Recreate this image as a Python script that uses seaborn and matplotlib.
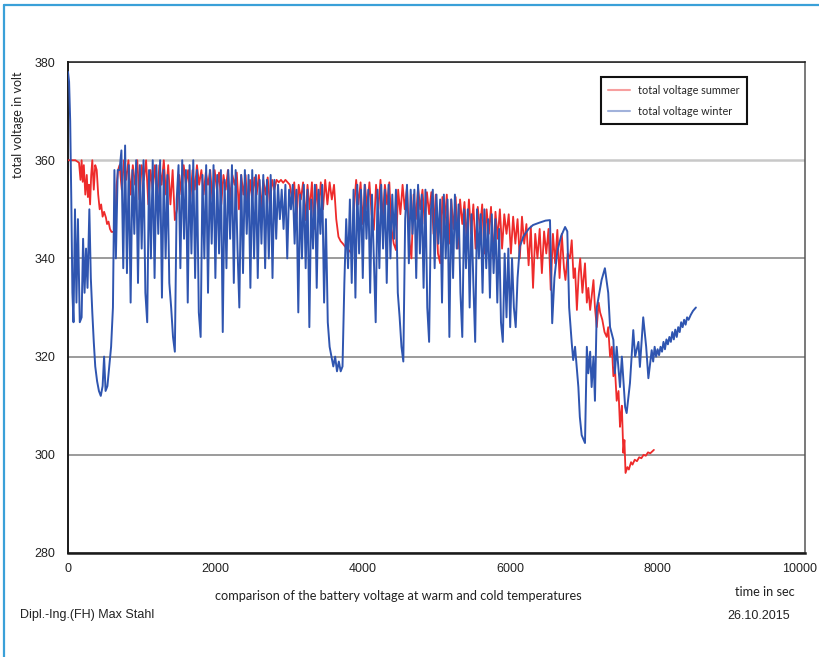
import numpy as np
import pandas as pd
import matplotlib.pyplot as plt
import seaborn as sns
from matplotlib import font_manager
from matplotlib.lines import Line2D
from matplotlib.ticker import MultipleLocator
from matplotlib.transforms import ScaledTranslation

sns.set_theme(style='white')

# fonts: narrow sans for numbers, calibri-like for the captions
names = {f.name for f in font_manager.fontManager.ttflist}
narrow = 'Liberation Sans Narrow' if 'Liberation Sans Narrow' in names else 'Liberation Sans'
calib = 'Lato'
plt.rcParams['font.family'] = [narrow, 'DejaVu Sans']

# ---- data (time in sec, voltage in volt) ----
# winter: first seconds
winter_start_t = [0, 15, 30, 45, 60, 75, 95, 115, 135, 160, 185, 205, 225, 245, 265, 290,
                  310, 330, 350, 370, 395, 420, 445, 470, 490, 510, 535, 560, 585, 610,
                  630, 650, 675]
winter_start_v = [378, 376, 368, 352, 333, 327, 350, 331, 348, 327, 328, 344, 333, 342, 334, 350,
                  336, 329, 323, 318, 315, 313, 312, 314, 320, 313, 314, 318, 322, 330,
                  358, 340, 358]

# winter: dense driving part, sampled every 25 s from 700 s
winter_dense_t0 = 700
winter_dense_dt = 25
winter_dense_v = [
    358, 362, 338, 363, 337, 359, 331, 358, 345, 360, 335, 359, 342, 360, 333, 327, 358, 340, 360, 336,
    359, 345, 360, 332, 358, 340, 357, 335, 330, 324, 321, 352, 359, 338, 360, 344, 358, 331, 359, 341,
    360, 336, 358, 329, 324, 357, 340, 359, 333, 358, 343, 359, 336, 357, 341, 358, 325, 356, 338, 358,
    344, 359, 335, 358, 342, 330, 357, 337, 358, 345, 357, 334, 358, 340, 357, 336, 356, 343, 357, 338,
    356, 340, 357, 336, 356, 344, 355, 348, 354, 346, 355, 340, 354, 350, 355, 343, 354, 329, 353, 340,
    355, 338, 354, 326, 352, 342, 355, 334, 354, 345, 355, 331, 348, 327, 322, 320, 318, 320, 317, 319,
    317, 318, 335, 348, 338, 352, 335, 354, 332, 355, 341, 354, 336, 355, 344, 354, 333, 353, 340, 327,
    354, 338, 355, 342, 354, 335, 355, 340, 353, 344, 354, 333, 328, 322, 319, 348, 355, 339, 354, 345,
    354, 336, 355, 341, 353, 334, 354, 330, 323, 350, 354, 338, 353, 343, 352, 331, 353, 340, 352, 324,
    352, 336, 353, 342, 351, 333, 324, 350, 338, 350, 330, 349, 335, 323, 350, 340, 349, 333, 350, 338,
    348, 332, 349, 337, 348, 331, 346, 327, 323, 341, 328, 342, 326, 340, 330, 326,
]

# winter: recovery curve and final drop
winter_end_t = [6100, 6130, 6180, 6250, 6310, 6400, 6480, 6540, 6555, 6570, 6600, 6640, 6690, 6745,
                6775, 6800, 6835, 6855, 6880, 6925, 6945, 6970, 7015, 7040, 7060, 7085, 7105, 7130,
                7150, 7175, 7240, 7285, 7330, 7355, 7400, 7420, 7445, 7490, 7515, 7560, 7580, 7625,
                7670, 7695, 7740, 7760, 7805, 7845, 7875, 7920, 7940, 7960, 7980, 8000, 8020, 8040,
                8060, 8080, 8100, 8120, 8140, 8160, 8180, 8200, 8220, 8240, 8260, 8280, 8300, 8320,
                8340, 8360, 8380, 8400, 8420, 8450, 8480, 8520]
winter_end_v = [336, 342.4, 344.5, 346, 346.8, 347.3, 347.7, 347.8, 338, 326.8, 336, 341.5, 344.5, 346.4,
                345.5, 330, 322.8, 319.3, 322, 313.8, 307.7, 304, 302.4, 322, 316.6, 321, 313.8, 320,
                311, 330, 335.6, 338, 333, 326, 323.4, 316.6, 322, 313.8, 320, 309.7, 308.5, 314.6,
                325.4, 320, 323, 317.9, 328, 322, 315.6, 321.3, 319, 322, 320, 321.5, 320.3, 322,
                321, 323, 321.5, 323.5, 322.5, 324, 323, 325, 323.5, 325.5, 324, 326, 325, 327,
                326, 327.5, 326.5, 328, 327.5, 328.5, 329.3, 330]

# summer: first seconds
summer_start_t = [0, 60, 100, 150, 170, 185, 200, 215, 235, 255, 270, 285, 300, 315, 330, 350, 370,
                  390, 410, 430, 450, 470, 490, 515, 530, 550, 570, 590, 620, 645, 660, 680]
summer_start_v = [360, 360, 360, 359.5, 356, 360, 355.6, 359, 353, 357, 352.5, 355, 351, 357, 360, 354, 359,
                  358, 353, 350, 351, 348.5, 349.5, 348.3, 347, 347.5, 346, 345.4, 345.4, 345.2, 355, 358]

# summer: dense driving part, sampled every 30 s from 700 s
summer_dense_t0 = 700
summer_dense_dt = 30
summer_dense_v = [
    359, 354, 360, 356, 360, 353, 359, 355, 360, 352, 359, 356, 360, 351, 358, 354, 359, 352, 359, 355,
    360, 353, 359, 351, 358, 347.8, 350, 357, 353, 359, 355, 358, 352, 358, 354, 359, 355, 358, 353, 357.5,
    355, 358, 352, 358, 354, 357.5, 351, 357, 354, 358, 352, 357, 355, 357.5, 350, 357, 353, 357, 349, 356,
    352, 356.5, 353, 357, 350, 356, 353, 356.5, 351, 356, 354, 356, 355.5, 356, 355.4, 356, 355.5, 355, 352, 355.5,
    348, 355, 352, 355.5, 347.8, 355, 350, 355.5, 346, 355, 349, 355.5, 350, 356, 351, 355.5, 352, 355, 348, 344.4,
    343.5, 343, 342.4, 342, 341.5, 341, 350, 356, 351, 355.5, 347, 355, 350, 355.5, 349, 345.8, 355, 350, 356, 348,
    355, 351, 355.5, 346, 343, 341.7, 354, 349, 355, 350, 354.5, 344, 340, 353, 348, 354.5, 350, 354, 347, 353.5,
    349, 353.5, 345, 353, 341, 339, 352.5, 347, 353, 343, 352, 346, 352.5, 342, 352, 347, 351.5, 344, 352, 345,
    351, 342, 350.5, 346, 351, 341, 350, 345, 350.5, 340, 349.5, 344, 350, 342, 349, 345, 349, 341, 348.5, 343,
    348, 340, 348.5, 343, 347, 338.6, 346.5, 334, 345, 340, 346, 337, 345.5, 341, 346, 333.6, 345, 339, 345.8, 336,
]

# summer: final drop
summer_end_t = [6700, 6730, 6750, 6780, 6810, 6835, 6860, 6880, 6905, 6930, 6950, 6980, 7015, 7040,
                7060, 7085, 7110, 7130, 7150, 7175, 7200, 7220, 7250, 7280, 7310, 7330, 7355, 7380,
                7400, 7420, 7445, 7470, 7490, 7505, 7515, 7535, 7550, 7565, 7590, 7610, 7640, 7660,
                7690, 7720, 7750, 7780, 7810, 7840, 7870, 7900, 7950]
summer_end_v = [345, 338, 335.6, 341, 340, 343.7, 336, 338, 329.5, 337, 340, 333, 339, 331,
                334, 329.5, 333, 335.6, 330, 326, 331, 329, 327.5, 325, 324, 326, 320, 322,
                316, 318, 311, 313, 305.7, 308.5, 310, 300.4, 303, 296.3, 297.5, 297, 298.5, 298,
                299, 298.7, 299.5, 299.3, 300, 299.8, 300.5, 300.3, 301]

winter_t = winter_start_t + list(winter_dense_t0 + winter_dense_dt * np.arange(len(winter_dense_v))) + winter_end_t
winter_v = winter_start_v + winter_dense_v + winter_end_v
summer_t = summer_start_t + list(summer_dense_t0 + summer_dense_dt * np.arange(len(summer_dense_v))) + summer_end_t
summer_v = summer_start_v + summer_dense_v + summer_end_v

df_summer = pd.DataFrame({'t': summer_t, 'v': summer_v})
df_winter = pd.DataFrame({'t': winter_t, 'v': winter_v})

# ---- figure ----
fig = plt.figure(figsize=(8.2, 6.57), dpi=100)
ax = fig.add_axes([0.0829, 0.1583, 0.8988, 0.7473])

sns.lineplot(data=df_summer, x='t', y='v', ax=ax, color='#ee2b2b', lw=1.3,
             estimator=None, sort=False, label='total voltage summer', zorder=3)
sns.lineplot(data=df_winter, x='t', y='v', ax=ax, color='#2f55b0', lw=1.4,
             estimator=None, sort=False, label='total voltage winter', zorder=4)

ax.set_xlim(0, 10000)
ax.set_ylim(280, 380)
ax.set_xticks([0, 2000, 4000, 6000, 8000, 10000])
ax.xaxis.set_minor_locator(MultipleLocator(1000))
ax.yaxis.set_major_locator(MultipleLocator(20))
ax.yaxis.set_minor_locator(MultipleLocator(10))
ax.tick_params(axis='both', which='major', direction='in', length=5, width=1,
               labelsize=9, colors='#222222')
ax.tick_params(axis='x', which='major', pad=7)
ax.tick_params(axis='y', which='major', pad=9)
ax.tick_params(axis='both', which='minor', direction='in', length=3, width=1, color='#222222')
ax.set_xlabel('')
ax.set_ylabel('')

# last x label sits at the page edge; nudge it in a little
last = ax.xaxis.get_major_ticks()[-1].label1
last.set_transform(last.get_transform() + ScaledTranslation(-0.05, 0, fig.dpi_scale_trans))

ax.grid(axis='y', color='#8a8a8a', lw=1.2)
ax.grid(axis='x', visible=False)
for val, gl in zip(ax.get_yticks(), ax.yaxis.get_gridlines()):
    if val == 360:
        gl.set_color('#c8c8c8')
        gl.set_linewidth(1.8)
ax.set_axisbelow(True)

for side in ['left', 'bottom', 'top', 'right']:
    ax.spines[side].set_color('#1a1a1a')
    ax.spines[side].set_linewidth(1.1)
ax.spines['bottom'].set_linewidth(1.8)
ax.spines['left'].set_linewidth(1.4)
ax.spines['right'].set_color('#555555')

leg = ax.legend(loc='upper left', bbox_to_anchor=(0.723, 0.969), borderaxespad=0,
                frameon=True, fancybox=False, edgecolor='#111111', framealpha=1,
                prop={'family': calib, 'size': 7.8}, handlelength=2.0,
                labelspacing=0.9, borderpad=0.7, handletextpad=0.7)
leg.get_frame().set_linewidth(1.5)
for line in leg.get_lines():
    line.set_alpha(0.45)
    line.set_linewidth(1.5)

# captions
fig.text(0.022, 0.8097, 'total voltage in volt', rotation=90, ha='center', va='center',
         family=calib, fontsize=9, color='#222222')
fig.text(0.4854, 0.0928, 'comparison of the battery voltage at warm and cold temperatures',
         ha='center', va='center', family=calib, fontsize=9.2, color='#222222')
fig.text(0.933, 0.0989, 'time in sec', ha='center', va='center', family=calib,
         fontsize=9.2, color='#222222')
fig.text(0.0244, 0.0639, 'Dipl.-Ing.(FH) Max Stahl', ha='left', va='center',
         fontsize=9, color='#222222')
fig.text(0.9634, 0.0624, '26.10.2015', ha='right', va='center', fontsize=9, color='#222222')

# page frame (top and left edge)
fig.add_artist(Line2D([3.5 / 820, 3.5 / 820], [0, 1 - 5 / 657], transform=fig.transFigure,
                      color='#3aa0d8', lw=1.6))
fig.add_artist(Line2D([3.5 / 820, 1], [1 - 5 / 657, 1 - 5 / 657], transform=fig.transFigure,
                      color='#3aa0d8', lw=1.6))

fig.savefig('out.png', dpi=100)
